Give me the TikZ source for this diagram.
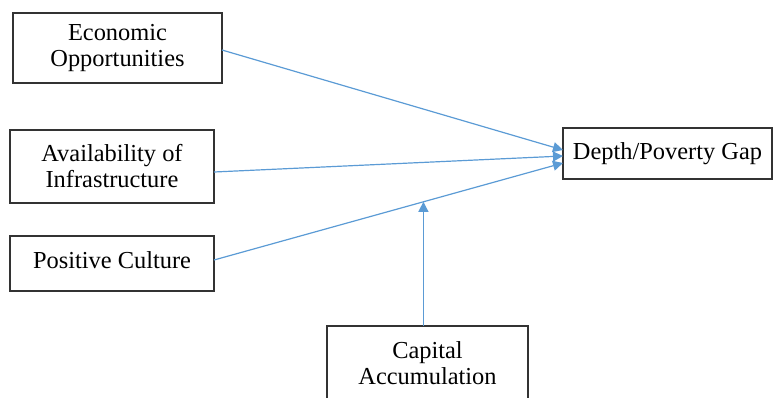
\documentclass[tikz,border=0pt]{standalone}
\usepackage{fontspec}
\setmainfont{Liberation Serif}
\usepackage{xcolor}
\usetikzlibrary{arrows.meta}
\definecolor{linkblue}{RGB}{91,155,213}

\begin{document}
\begin{tikzpicture}[x=0.5pt,y=-0.5pt,
                    -{Triangle[width=5pt,length=5pt]},line width=0.5pt,
                    box/.style={draw=black!80,line width=0.65pt,-,inner sep=0pt,outer sep=0pt,
                                align=center,font=\fontsize{12.2}{13}\selectfont},
                    link/.style={draw=linkblue,line width=0.6pt}]
    \useasboundingbox (0,0) rectangle (777,397);

    \node[box,minimum width=104.5pt,minimum height=35pt] (eco)   at (117.5,48)  {Economic\\Opportunities};
    \node[box,minimum width=102pt,minimum height=36.5pt] (avail) at (112,166.5)  {Availability of\\Infrastructure};
    \node[box,minimum width=102pt,minimum height=27.5pt] (cult)  at (112,263.5)  {\raisebox{3.5pt}{Positive Culture}};
    \node[box,minimum width=104.5pt,minimum height=25.5pt] (depth) at (667.5,153.5) {Depth/Poverty Gap};
    \node[box,minimum width=100.5pt,minimum height=37pt] (cap)   at (427.5,363)  {Capital\\Accumulation};

    \path ([yshift=-1pt]eco.east)    edge[link] ([yshift=1.75pt]depth.west)
          ([yshift=-2.75pt]avail.east) edge[link] ([yshift=-1.25pt]depth.west);
    \draw[link] ([yshift=1.75pt]cult.east) -- coordinate[pos=0.6] (mid) ([yshift=-4.75pt]depth.west);
    \path (mid |- cap.north) edge[link] (mid);
\end{tikzpicture}
\end{document}
